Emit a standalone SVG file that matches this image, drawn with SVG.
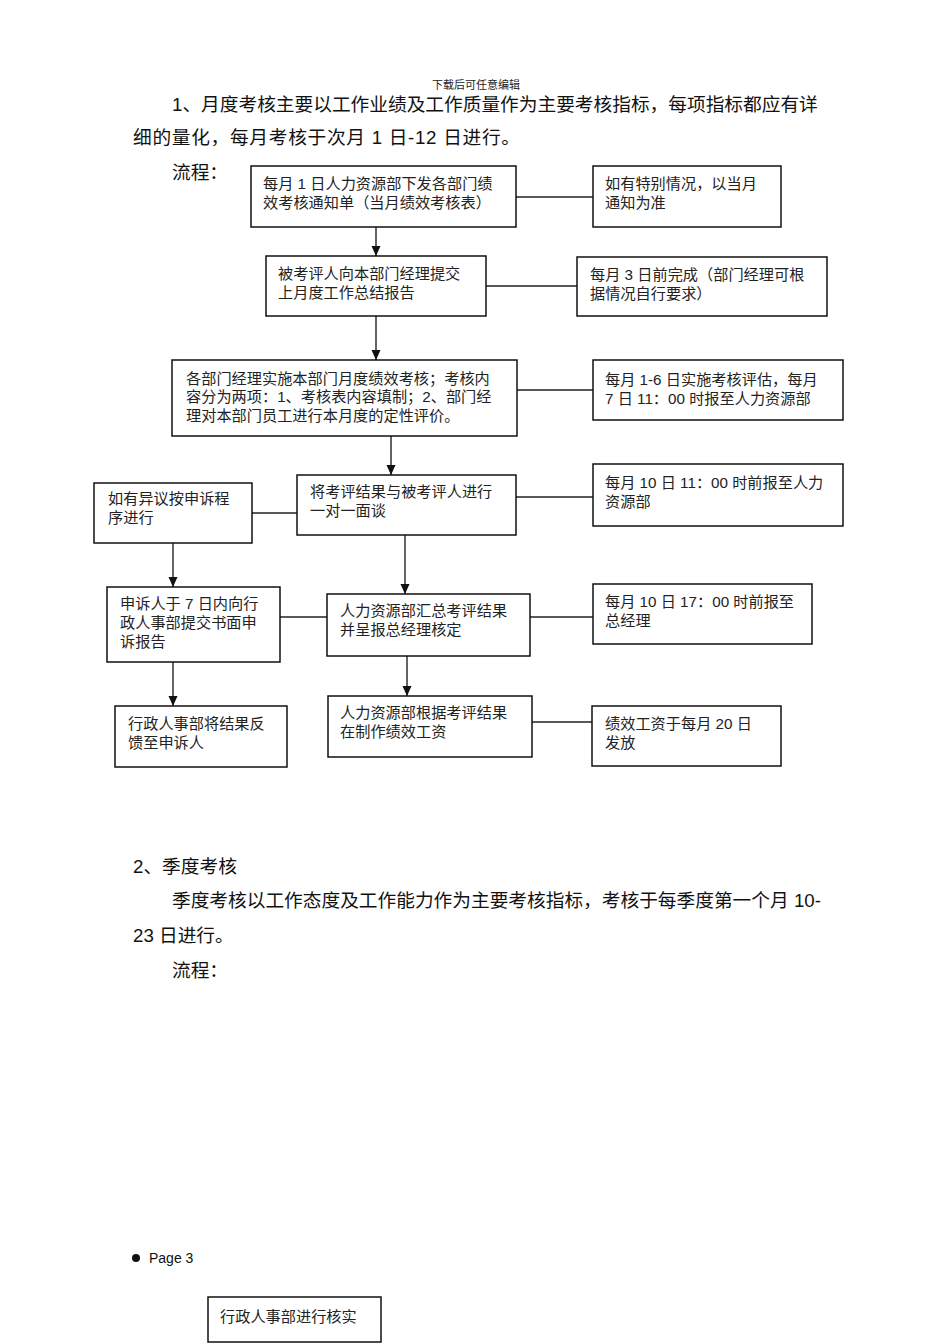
<svg xmlns="http://www.w3.org/2000/svg" width="950" height="1344" viewBox="0 0 950 1344">
<defs>
<style>
.body{font-family:"Liberation Sans","Noto Sans CJK SC",sans-serif;font-size:18.7px;fill:#111}
.hdr{font-family:"Liberation Serif","Noto Sans CJK SC",serif;font-size:11px;fill:#222}
.bt{font-family:"Liberation Sans","Noto Sans CJK SC",sans-serif;font-size:15.2px;fill:#222}
.box{fill:#fff;stroke:#111;stroke-width:1.5}
.con{stroke:#222;stroke-width:1.3;fill:none}
.arr{stroke:#111;stroke-width:1.3;fill:none;marker-end:url(#ah)}
</style>
<marker id="ah" markerUnits="userSpaceOnUse" markerWidth="10" markerHeight="10" refX="10" refY="4.5" orient="auto">
<path d="M0,0 L10,4.5 L0,9 z" fill="#111"/>
</marker>
</defs>
<rect width="950" height="1344" fill="#fff"/>
<g id="page-text">
<text class="hdr" x="476" y="89" text-anchor="middle">下载后可任意编辑</text>
<text class="body" x="172" y="111">1、月度考核主要以工作业绩及工作质量作为主要考核指标，每项指标都应有详</text>
<text class="body" x="133" y="144" textLength="387" lengthAdjust="spacing">细的量化，每月考核于次月 1 日-12 日进行。</text>
<text class="body" x="172" y="179">流程：</text>
<text class="body" x="133" y="873">2、季度考核</text>
<text class="body" x="172" y="907">季度考核以工作态度及工作能力作为主要考核指标，考核于每季度第一个月 10-</text>
<text class="body" x="133" y="942">23 日进行。</text>
<text class="body" x="172" y="977">流程：</text>
<circle cx="136" cy="1258" r="4" fill="#111"/>
<text x="149" y="1263" style="font-family:'Liberation Sans',sans-serif;font-size:14px;fill:#111">Page 3</text>
</g>
<g id="connectors">
<line class="con" x1="516" y1="197" x2="593" y2="197"/>
<line class="arr" x1="376" y1="227" x2="376" y2="256"/>
<line class="con" x1="486" y1="286" x2="577" y2="286"/>
<line class="arr" x1="376" y1="316" x2="376" y2="360"/>
<line class="con" x1="517" y1="390" x2="593" y2="390"/>
<line class="arr" x1="391" y1="436" x2="391" y2="475"/>
<line class="con" x1="516" y1="497" x2="593" y2="497"/>
<line class="con" x1="252" y1="513" x2="297" y2="513"/>
<line class="arr" x1="173" y1="543" x2="173" y2="587"/>
<line class="arr" x1="405" y1="535" x2="405" y2="594"/>
<line class="con" x1="280" y1="617" x2="327" y2="617"/>
<line class="con" x1="530" y1="617" x2="593" y2="617"/>
<line class="arr" x1="173" y1="662" x2="173" y2="706"/>
<line class="arr" x1="407" y1="656" x2="407" y2="696"/>
<line class="con" x1="532" y1="722" x2="592" y2="722"/>
</g>
<g id="n1"><rect class="box" x="251" y="166" width="265" height="61"/>
<text class="bt" x="263" y="189">每月 1 日人力资源部下发各部门绩</text>
<text class="bt" x="263" y="208">效考核通知单（当月绩效考核表）</text></g>
<g id="nA"><rect class="box" x="593" y="166" width="188" height="61"/>
<text class="bt" x="605" y="189">如有特别情况，以当月</text>
<text class="bt" x="605" y="208">通知为准</text></g>
<g id="n2"><rect class="box" x="266" y="256" width="220" height="60"/>
<text class="bt" x="278" y="279">被考评人向本部门经理提交</text>
<text class="bt" x="278" y="298">上月度工作总结报告</text></g>
<g id="nB"><rect class="box" x="577" y="257" width="250" height="59"/>
<text class="bt" x="590" y="280">每月 3 日前完成（部门经理可根</text>
<text class="bt" x="590" y="299">据情况自行要求）</text></g>
<g id="n3"><rect class="box" x="172" y="360" width="345" height="76"/>
<text class="bt" x="186" y="384">各部门经理实施本部门月度绩效考核；考核内</text>
<text class="bt" x="186" y="402">容分为两项：1、考核表内容填制；2、部门经</text>
<text class="bt" x="186" y="421">理对本部门员工进行本月度的定性评价。</text></g>
<g id="nC"><rect class="box" x="593" y="360" width="250" height="60"/>
<text class="bt" x="605" y="385">每月 1-6 日实施考核评估，每月</text>
<text class="bt" x="605" y="404">7 日 11：00 时报至人力资源部</text></g>
<g id="n4"><rect class="box" x="297" y="475" width="219" height="60"/>
<text class="bt" x="310" y="497">将考评结果与被考评人进行</text>
<text class="bt" x="310" y="516">一对一面谈</text></g>
<g id="nD"><rect class="box" x="593" y="464" width="250" height="62"/>
<text class="bt" x="605" y="488">每月 10 日 11：00 时前报至人力</text>
<text class="bt" x="605" y="507">资源部</text></g>
<g id="nE"><rect class="box" x="94" y="483" width="158" height="60"/>
<text class="bt" x="108" y="504">如有异议按申诉程</text>
<text class="bt" x="108" y="523">序进行</text></g>
<g id="nF"><rect class="box" x="107" y="587" width="173" height="75"/>
<text class="bt" x="120" y="609">申诉人于 7 日内向行</text>
<text class="bt" x="120" y="628">政人事部提交书面申</text>
<text class="bt" x="120" y="647">诉报告</text></g>
<g id="nH"><rect class="box" x="327" y="594" width="203" height="62"/>
<text class="bt" x="340" y="616">人力资源部汇总考评结果</text>
<text class="bt" x="340" y="635">并呈报总经理核定</text></g>
<g id="nJ"><rect class="box" x="593" y="584" width="219" height="60"/>
<text class="bt" x="605" y="607">每月 10 日 17：00 时前报至</text>
<text class="bt" x="605" y="626">总经理</text></g>
<g id="nG"><rect class="box" x="115" y="706" width="172" height="61"/>
<text class="bt" x="128" y="729">行政人事部将结果反</text>
<text class="bt" x="128" y="748">馈至申诉人</text></g>
<g id="nI"><rect class="box" x="328" y="696" width="204" height="61"/>
<text class="bt" x="340" y="718">人力资源部根据考评结果</text>
<text class="bt" x="340" y="737">在制作绩效工资</text></g>
<g id="nK"><rect class="box" x="592" y="706" width="189" height="60"/>
<text class="bt" x="605" y="729">绩效工资于每月 20 日</text>
<text class="bt" x="605" y="748">发放</text></g>
<g id="nL"><rect class="box" x="208" y="1297" width="173" height="45"/>
<text class="bt" x="220" y="1322">行政人事部进行核实</text></g>
</svg>
